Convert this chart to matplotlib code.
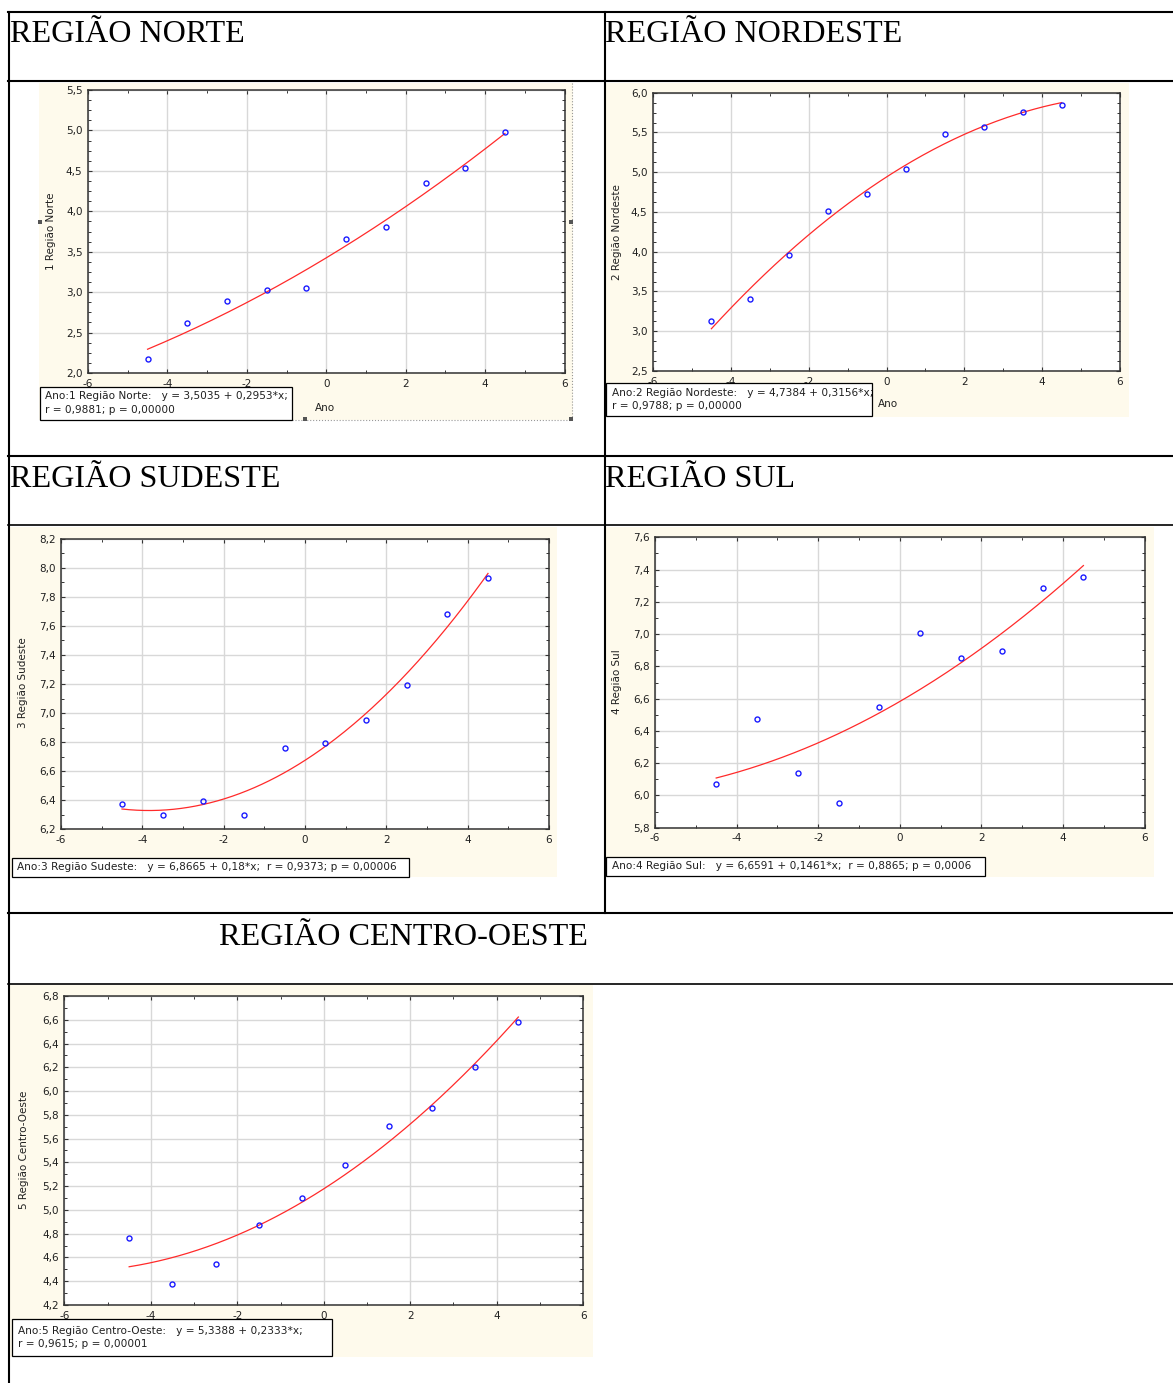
import numpy as np
import matplotlib
matplotlib.use("Agg")
import matplotlib.pyplot as plt
from matplotlib.patches import Rectangle
from matplotlib.lines import Line2D
from matplotlib.ticker import MultipleLocator, AutoMinorLocator, FuncFormatter

W, H = 1173, 1383

# ---------------- data ----------------
ano = [-4.5, -3.5, -2.5, -1.5, -0.5, 0.5, 1.5, 2.5, 3.5, 4.5]
norte = [2.173, 2.618, 2.885, 3.025, 3.050, 3.655, 3.807, 4.347, 4.536, 4.977]
nordeste = [3.133, 3.402, 3.963, 4.508, 4.730, 5.036, 5.476, 5.568, 5.753, 5.849]
sudeste = [6.370, 6.297, 6.393, 6.297, 6.761, 6.795, 6.954, 7.195, 7.683, 7.933]
sul = [6.071, 6.474, 6.137, 5.955, 6.548, 7.007, 6.850, 6.893, 7.284, 7.354]
centro_oeste = [4.761, 4.376, 4.542, 4.876, 5.103, 5.375, 5.709, 5.855, 6.205, 6.581]

titles = ["REGIÃO NORTE", "REGIÃO NORDESTE", "REGIÃO SUDESTE", "REGIÃO SUL",
          "REGIÃO CENTRO-OESTE"]
y_labels = ["1 Região Norte", "2 Região Nordeste", "3 Região Sudeste",
            "4 Região Sul", "5 Região Centro-Oeste"]
x_label = "Ano"
box_texts = [
    "Ano:1 Região Norte:   y = 3,5035 + 0,2953*x;\nr = 0,9881; p = 0,00000",
    "Ano:2 Região Nordeste:   y = 4,7384 + 0,3156*x;\nr = 0,9788; p = 0,00000",
    "Ano:3 Região Sudeste:   y = 6,8665 + 0,18*x;  r = 0,9373; p = 0,00006",
    "Ano:4 Região Sul:   y = 6,6591 + 0,1461*x;  r = 0,8865; p = 0,0006",
    "Ano:5 Região Centro-Oeste:   y = 5,3388 + 0,2333*x;\nr = 0,9615; p = 0,00001",
]
series = [norte, nordeste, sudeste, sul, centro_oeste]
y_limits = [(2.0, 5.5), (2.5, 6.0), (6.2, 8.2), (5.8, 7.6), (4.2, 6.8)]
y_steps = [0.5, 0.5, 0.2, 0.2, 0.2]
x_limits = (-6, 6)

# ---------------- layout (pixels) ----------------
axes_px = [(88, 90, 564.5, 373), (653, 92.7, 1120, 371), (61, 539, 549, 829),
           (655, 537.3, 1144.6, 827.7), (64.3, 996, 583.2, 1305)]
panel_px = [(39, 83, 573, 420), (606, 83, 1129, 417), (10, 527, 557, 877),
            (605, 527, 1154, 877), (10, 985, 593, 1357)]
box_px = [(40, 386.7, 292, 420), (606, 382.7, 872, 416), (11.5, 857.7, 408.7, 876.7),
          (605.5, 856.7, 985, 876), (11.5, 1319, 332, 1356)]
box_text_px = [(45.5, 403), (612, 399.5), (17, 867.3), (611.5, 866.3), (18, 1337.5)]
# x-axis labels that remain visible (the others are hidden under the boxes)
xlabel_px = [(325, 408), (888, 404), None, None, None]
ylabel_px = [(51, 231.5), (616.5, 231.7), (23, 683), (616.5, 681.7), (23.7, 1150)]
title_px = [(10, 42.5, "left"), (605, 42.5, "left"), (10, 486.7, "left"),
            (605, 486.7, "left"), (403, 945, "center")]

fig = plt.figure(figsize=(W / 100, H / 100), dpi=100)
fig.patch.set_facecolor("white")


def fx(px):
    return px / W


def fy(py):
    return 1 - py / H


def hline(y, x0, x1, lw=1.5):
    fig.add_artist(Line2D([fx(x0), fx(x1)], [fy(y), fy(y)], transform=fig.transFigure,
                          color="black", lw=lw, zorder=2))


def vline(x, y0, y1, lw=1.5):
    fig.add_artist(Line2D([fx(x), fx(x)], [fy(y0), fy(y1)], transform=fig.transFigure,
                          color="black", lw=lw, zorder=2))


# table lines
hline(12, 8, W)
hline(81, 8, W)
hline(456, 8, W)
hline(524.5, 8, W, lw=1.2)
hline(912.5, 8, W)
hline(984, 8, W, lw=1.2)
vline(9, 12, H)
vline(604.5, 12, 913)

# titles
for (tx, ty, ha), t in zip(title_px, titles):
    fig.text(fx(tx), fy(ty), t, family="Liberation Serif", fontsize=23.1,
             ha=ha, va="baseline", color="black")

cream = "#FEFAEC"
txt_col = "#202020"
fmt_y = FuncFormatter(lambda v, _: f"{v:.1f}".replace(".", ","))
fmt_x = FuncFormatter(lambda v, _: f"{int(round(v))}")

for i in range(5):
    l, t, r, b = panel_px[i]
    fig.add_artist(Rectangle((fx(l), fy(b)), fx(r) - fx(l), fy(t) - fy(b),
                             transform=fig.transFigure, facecolor=cream,
                             edgecolor="none", zorder=-5))
    l, t, r, b = axes_px[i]
    ax = fig.add_axes([fx(l), fy(b), fx(r) - fx(l), fy(t) - fy(b)])
    ax.set_facecolor("white")
    yv = np.array(series[i])
    xv = np.array(ano)
    coef = np.polyfit(xv, yv, 2)
    xs = np.linspace(xv.min(), xv.max(), 200)
    ax.plot(xs, np.polyval(coef, xs), color="#FF2A2A", lw=0.9, zorder=3)
    ax.plot(xv, yv, linestyle="none", marker="o", markersize=3.6, mfc="none",
            mec="#1A1AFF", mew=1.0, zorder=4)
    ax.set_xlim(*x_limits)
    ax.set_ylim(*y_limits[i])
    ax.xaxis.set_major_locator(MultipleLocator(2))
    ax.xaxis.set_minor_locator(MultipleLocator(1))
    ax.yaxis.set_major_locator(MultipleLocator(y_steps[i]))
    ax.yaxis.set_minor_locator(AutoMinorLocator(4 if y_steps[i] == 0.5 else 2))
    ax.xaxis.set_major_formatter(fmt_x)
    ax.yaxis.set_major_formatter(fmt_y)
    ax.grid(True, which="major", color="#D8D8D8", lw=1.0, zorder=0)
    ax.set_axisbelow(True)
    ax.tick_params(which="both", direction="in", top=True, right=True,
                   colors="#333333", labelcolor=txt_col, labelsize=7.5)
    ax.tick_params(which="major", length=3, width=0.8, pad=4)
    ax.tick_params(which="minor", length=2, width=0.7)
    for sp in ax.spines.values():
        sp.set_color("#333333")
        sp.set_linewidth(1.1)
    # axis labels
    lx, ly = ylabel_px[i]
    fig.text(fx(lx), fy(ly), y_labels[i], rotation=90, ha="center", va="center",
             fontsize=7.5, color=txt_col, zorder=3)
    if xlabel_px[i] is not None:
        lx, ly = xlabel_px[i]
        fig.text(fx(lx), fy(ly), x_label, ha="center", va="center",
                 fontsize=7.5, color=txt_col, zorder=3)
    # statistics box
    l, t, r, b = box_px[i]
    fig.add_artist(Rectangle((fx(l), fy(b)), fx(r) - fx(l), fy(t) - fy(b),
                             transform=fig.transFigure, facecolor="white",
                             edgecolor="black", lw=0.9, zorder=10))
    bx, by = box_text_px[i]
    fig.text(fx(bx), fy(by), box_texts[i], ha="left", va="center", fontsize=7.55,
             color=txt_col, linespacing=1.45, zorder=11)

# selection handles / dotted frame around the first chart
fig.add_artist(Line2D([fx(572), fx(572)], [fy(83), fy(420)], transform=fig.transFigure,
                      color="#999999", lw=0.8, ls=":", zorder=2))
fig.add_artist(Line2D([fx(292), fx(572)], [fy(420), fy(420)], transform=fig.transFigure,
                      color="#999999", lw=0.8, ls=":", zorder=2))
for hx, hy in [(40, 222), (570.5, 222), (305, 419), (570.5, 419)]:
    fig.add_artist(Rectangle((fx(hx - 2), fy(hy + 2)), 4 / W, 4 / H,
                             transform=fig.transFigure, facecolor="#555555",
                             edgecolor="none", zorder=12))

fig.savefig("out.png", dpi=100)
